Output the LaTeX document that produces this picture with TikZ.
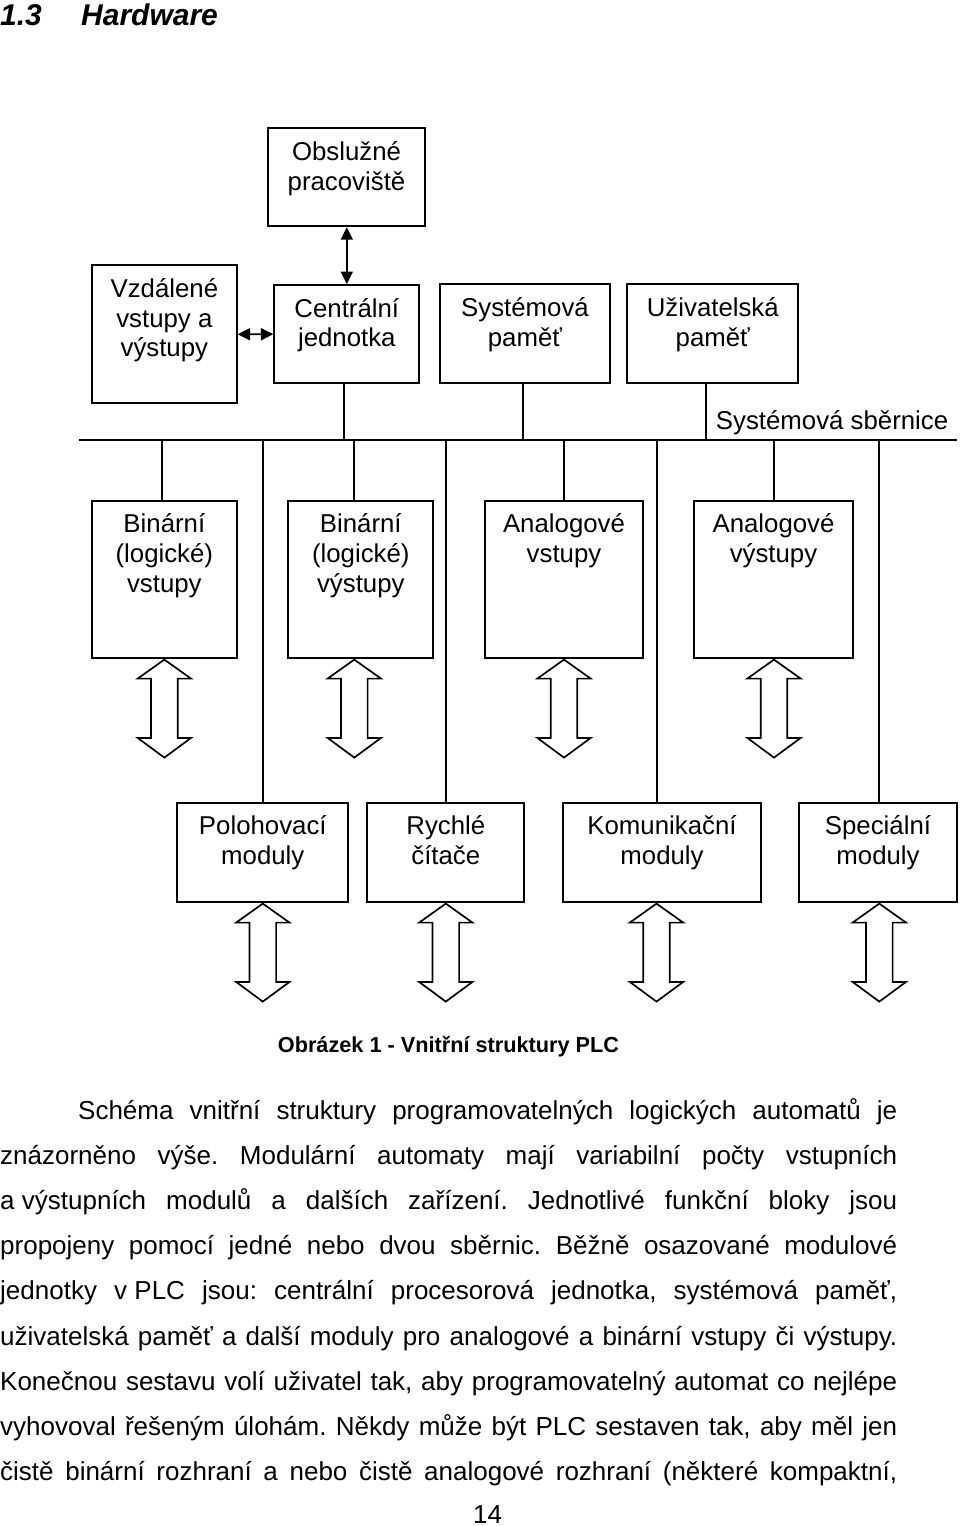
\documentclass[tikz,border=0pt]{standalone}
\usepackage{fontspec}
\setmainfont{Liberation Sans}
\usepackage{graphicx}
\usetikzlibrary{arrows.meta}
\frenchspacing
\newsavebox\jlbox
\newcommand\jline[2]{\sbox\jlbox{#2}\ifdim\wd\jlbox>#1\relax\resizebox{#1}{\height}{#2}\else\makebox[#1][s]{#2}\fi}
\newcommand\fs{\kern.28em}
\tikzset{
  box/.style={draw, line width=1.8pt, inner sep=0pt, rectangle},
  lbl/.style={inner sep=0pt, anchor=base, font=\fontsize{25.8}{29.7}\selectfont},
  conn/.style={line width=1.9pt},
  thinarrow/.style={line width=1.8pt, {Triangle[length=12.5pt,width=12pt]}-{Triangle[length=12.5pt,width=12pt]}},
  body/.style={inner sep=0pt, anchor=base west, font=\fontsize{26}{30}\selectfont},
  harrow/.pic={\draw[line width=1.7pt, line join=miter] (0,0) -- (26.7,19) -- (13.3,19) -- (13.3,78.3) -- (26.7,78.3) -- (0,98) -- (-26.7,78.3) -- (-13.3,78.3) -- (-13.3,19) -- (-26.7,19) -- cycle;}
}
\newcommand\bx[6]{%
  \node[box, minimum width={#4-#2}, minimum height={#5-#3}] (#1) at ({(#2+#4)/2},{(#3+#5)/2}) {};
  \node[lbl] (#1-t) at ([yshift=-33pt]#1.north) {\parbox[t]{220pt}{\centering #6}};
}
\begin{document}
\begin{tikzpicture}[x=1pt,y=-1pt]
\useasboundingbox (0,0) rectangle (960,1526);
% title
\node[inner sep=0pt, anchor=base west, font=\fontsize{30}{36}\selectfont\bfseries\itshape] (tnum) at (0,25) {1.3};
\node[inner sep=0pt, anchor=base west, font=\fontsize{30}{36}\selectfont\bfseries\itshape] (ttl) at (81,25) {Hardware};
% top boxes
\bx{obs}{267.7}{128.3}{425.3}{226.3}{Obslužné\\pracoviště}
\bx{vzd}{92}{265.3}{236.7}{403.3}{Vzdálené\\vstupy a\\výstupy}
\bx{cpu}{274.3}{285}{419.3}{383.3}{Centrální\\jednotka}
\bx{sys}{439.7}{284.3}{610.3}{382.7}{Systémová\\paměť}
\bx{usr}{627.3}{284.3}{798.3}{382.7}{Uživatelská\\paměť}
% row 2
\bx{b1}{92}{500.7}{236.7}{657.7}{Binární\\(logické)\\vstupy}
\bx{b2}{288.3}{500.7}{433.3}{657.7}{Binární\\(logické)\\výstupy}
\bx{b3}{485}{500.7}{643}{657.7}{Analogové\\vstupy}
\bx{b4}{694.3}{500.7}{852.7}{657.7}{Analogové\\výstupy}
% row 3
\bx{p1}{177.3}{802.7}{348.3}{902.3}{Polohovací\\moduly}
\bx{p2}{367.3}{802.7}{524.3}{902.3}{Rychlé\\čítače}
\bx{p3}{563.3}{802.7}{760.7}{902.3}{Komunikační\\moduly}
\bx{p4}{799.3}{802.7}{956.7}{902.3}{Speciální\\moduly}
% bus
\coordinate (busL) at (79,440);
\coordinate (busR) at (956.7,440);
\draw[conn] (busL) -- (busR);
\node[inner sep=0pt, anchor=base west, font=\fontsize{25.8}{29.7}\selectfont] (buslbl) at (715.7,429.3) {Systémová sběrnice};
% thin arrows
\draw[thinarrow] (cpu.north |- obs.south) -- (cpu.north);
\draw[thinarrow] (vzd.east) -- (cpu.west);
% top connections
\draw[conn] ([xshift=-2.8pt]cpu.south) -- ([xshift=-2.8pt]cpu.south |- busL);
\draw[conn] ([xshift=-2pt]sys.south) -- ([xshift=-2pt]sys.south |- busL);
\draw[conn] ([xshift=-6.8pt]usr.south) -- ([xshift=-6.8pt]usr.south |- busL);
% row 2 drops
\draw[conn] ([xshift=-2.3pt]b1.north) -- ([xshift=-2.3pt]b1.north |- busL);
\draw[conn] ([xshift=-6.5pt]b2.north) -- ([xshift=-6.5pt]b2.north |- busL);
\draw[conn] (b3.north) -- (b3.north |- busL);
\draw[conn] ([xshift=0.5pt]b4.north) -- ([xshift=0.5pt]b4.north |- busL);
% row 3 drops
\draw[conn] (p1.north) -- (p1.north |- busL);
\draw[conn] (p2.north) -- (p2.north |- busL);
\draw[conn] ([xshift=-5pt]p3.north) -- ([xshift=-5pt]p3.north |- busL);
\draw[conn] ([xshift=1.3pt]p4.north) -- ([xshift=1.3pt]p4.north |- busL);
% hollow arrows
\pic at ([yshift=-1pt]b1.south) {harrow};
\pic at ([xshift=-6.5pt,yshift=-1pt]b2.south) {harrow};
\pic at ([yshift=-1pt]b3.south) {harrow};
\pic at ([xshift=0.5pt,yshift=-1pt]b4.south) {harrow};
\pic at ([yshift=-0.4pt]p1.south) {harrow};
\pic at ([yshift=-0.4pt]p2.south) {harrow};
\pic at ([xshift=-5.5pt,yshift=-0.4pt]p3.south) {harrow};
\pic at ([xshift=1.3pt,yshift=-0.4pt]p4.south) {harrow};
% caption
\node[inner sep=0pt, anchor=base, font=\fontsize{21.7}{26}\selectfont\bfseries] (cap) at (448.5,1052.5) {Obrázek 1 - Vnitřní struktury PLC};
% body text
\node[body] (l1) at (78,1119) {\jline{819pt}{Schéma vnitřní struktury programovatelných logických automatů je}};
\node[body] (l2) at (0,1164.2) {\jline{897pt}{znázorněno výše. Modulární automaty mají variabilní počty vstupních}};
\node[body] (l3) at (0,1209.4) {\jline{897pt}{a\fs výstupních modulů a dalších zařízení. Jednotlivé funkční bloky jsou}};
\node[body] (l4) at (0,1254.6) {\jline{897pt}{propojeny pomocí jedné nebo dvou sběrnic. Běžně osazované modulové}};
\node[body] (l5) at (0,1299.8) {\jline{897pt}{jednotky v\fs PLC jsou: centrální procesorová jednotka, systémová paměť,}};
\node[body] (l6) at (0,1345) {\jline{897pt}{uživatelská paměť a další moduly pro analogové a binární vstupy či výstupy.}};
\node[body] (l7) at (0,1390.2) {\jline{897pt}{Konečnou sestavu volí uživatel tak, aby programovatelný automat co nejlépe}};
\node[body] (l8) at (0,1435.4) {\jline{897pt}{vyhovoval řešeným úlohám. Někdy může být PLC sestaven tak, aby měl jen}};
\node[body] (l9) at (0,1480.6) {\jline{897pt}{čistě binární rozhraní a nebo čistě analogové rozhraní (některé kompaktní,}};
\node[inner sep=0pt, anchor=base, font=\fontsize{26}{30}\selectfont] (pg) at (487.5,1523) {14};
\end{tikzpicture}
\end{document}
